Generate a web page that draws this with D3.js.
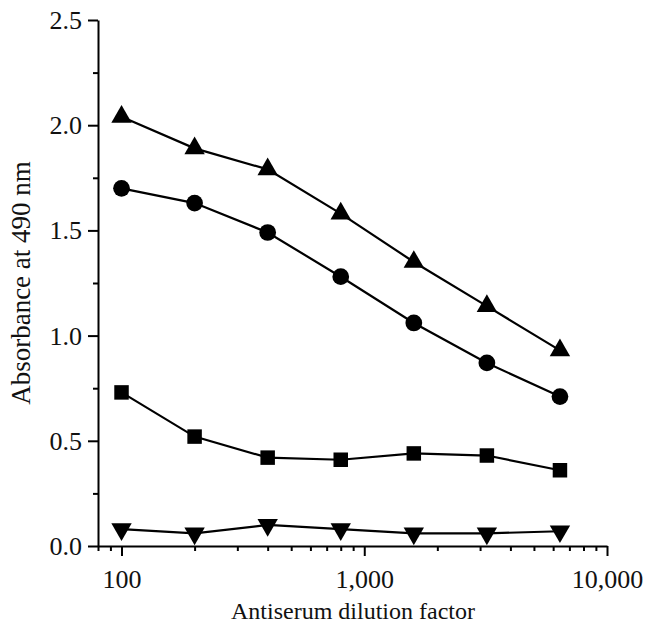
<!DOCTYPE html>
<html>
<head>
<meta charset="utf-8">
<script src="https://cdn.jsdelivr.net/npm/d3@7"></script>
<style>
  body { margin: 0; background: #fff; }
  text { font-family: "Liberation Serif", "DejaVu Serif", serif; fill: #111; }
  .axis path, .axis line { stroke: #000; stroke-width: 2; }
  .axis text { font-family: "Liberation Serif", serif; font-size: 26px; }
  .series { fill: none; stroke: #000; stroke-width: 2.2; }
</style>
</head>
<body>
<svg id="chart" width="645" height="630"></svg>
<script>
var dilutions = [100, 200, 400, 800, 1600, 3200, 6400];

var triangleUp   = [2.04, 1.89, 1.79, 1.58, 1.35, 1.14, 0.93];
var circles      = [1.70, 1.63, 1.49, 1.28, 1.06, 0.87, 0.71];
var squares      = [0.73, 0.52, 0.42, 0.41, 0.44, 0.43, 0.36];
var triangleDown = [0.08, 0.06, 0.10, 0.08, 0.06, 0.06, 0.07];

var yTicks = [0, 0.5, 1.0, 1.5, 2.0, 2.5];
var xTicks = [100, 1000, 10000];

var chart = d3.select("#chart");

var x = d3.scaleLog()
    .domain([80, 10000])
    .range([98, 607]);

var y = d3.scaleLinear()
    .domain([0, 2.5])
    .range([546, 20]);

// x axis: minor ticks first, then the labelled ones
var minorX = [];
[10, 100, 1000].forEach(function(dec) {
  for (var k = 1; k <= 9; k++) {
    var v = dec * k;
    if (v >= 80 && v <= 10000 && xTicks.indexOf(v) < 0) minorX.push(v);
  }
});

chart.append("g")
    .attr("class", "axis")
    .attr("transform", "translate(0,546)")
    .call(d3.axisBottom(x).tickValues(minorX).tickSize(5).tickFormat(""))
    .call(function(g) { g.select(".domain").remove(); });

chart.append("g")
    .attr("class", "axis")
    .attr("transform", "translate(0,546)")
    .call(d3.axisBottom(x).tickValues(xTicks).tickSize(10).tickSizeOuter(0)
      .tickFormat(d3.format(",")))
    .call(function(g) {
      g.selectAll("text").attr("y", 42).attr("dy", 0);
    });

// y axis
var minorY = [0.25, 0.75, 1.25, 1.75, 2.25];
chart.append("g")
    .attr("class", "axis")
    .attr("transform", "translate(98,0)")
    .call(d3.axisLeft(y).tickValues(minorY).tickSize(5).tickFormat(""))
    .call(function(g) { g.select(".domain").remove(); });

chart.append("g")
    .attr("class", "axis")
    .attr("transform", "translate(98,0)")
    .call(d3.axisLeft(y).tickValues(yTicks).tickSize(10).tickSizeOuter(0)
      .tickFormat(d3.format(".1f")))
    .call(function(g) {
      g.selectAll("text").attr("x", -16).attr("dy", "0.33em");
    });

// axis titles
chart.append("text")
    .attr("x", 353)
    .attr("y", 619)
    .attr("text-anchor", "middle")
    .style("font-size", "24px")
    .text("Antiserum dilution factor");

chart.append("text")
    .attr("transform", "translate(30,283) rotate(-90)")
    .attr("text-anchor", "middle")
    .style("font-size", "27px")
    .text("Absorbance at 490 nm");

var line = d3.line()
    .x(function(d, i) { return x(dilutions[i]); })
    .y(function(d) { return y(d); });

var series = [
  { values: triangleUp,   symbol: d3.symbolTriangle, size: 180, rotate: 0 },
  { values: circles,      symbol: d3.symbolCircle,   size: 220, rotate: 0 },
  { values: squares,      symbol: d3.symbolSquare,   size: 210, rotate: 0 },
  { values: triangleDown, symbol: d3.symbolTriangle, size: 180, rotate: 180 }
];

series.forEach(function(s) {
  chart.append("path")
      .datum(s.values)
      .attr("class", "series")
      .attr("d", line);

  chart.selectAll(null)
      .data(s.values)
    .enter().append("path")
      .attr("d", d3.symbol().type(s.symbol).size(s.size))
      .attr("fill", "#000")
      .attr("transform", function(d, i) {
        return "translate(" + x(dilutions[i]) + "," + y(d) + ") rotate(" + s.rotate + ")";
      });
});
</script>
</body>
</html>
